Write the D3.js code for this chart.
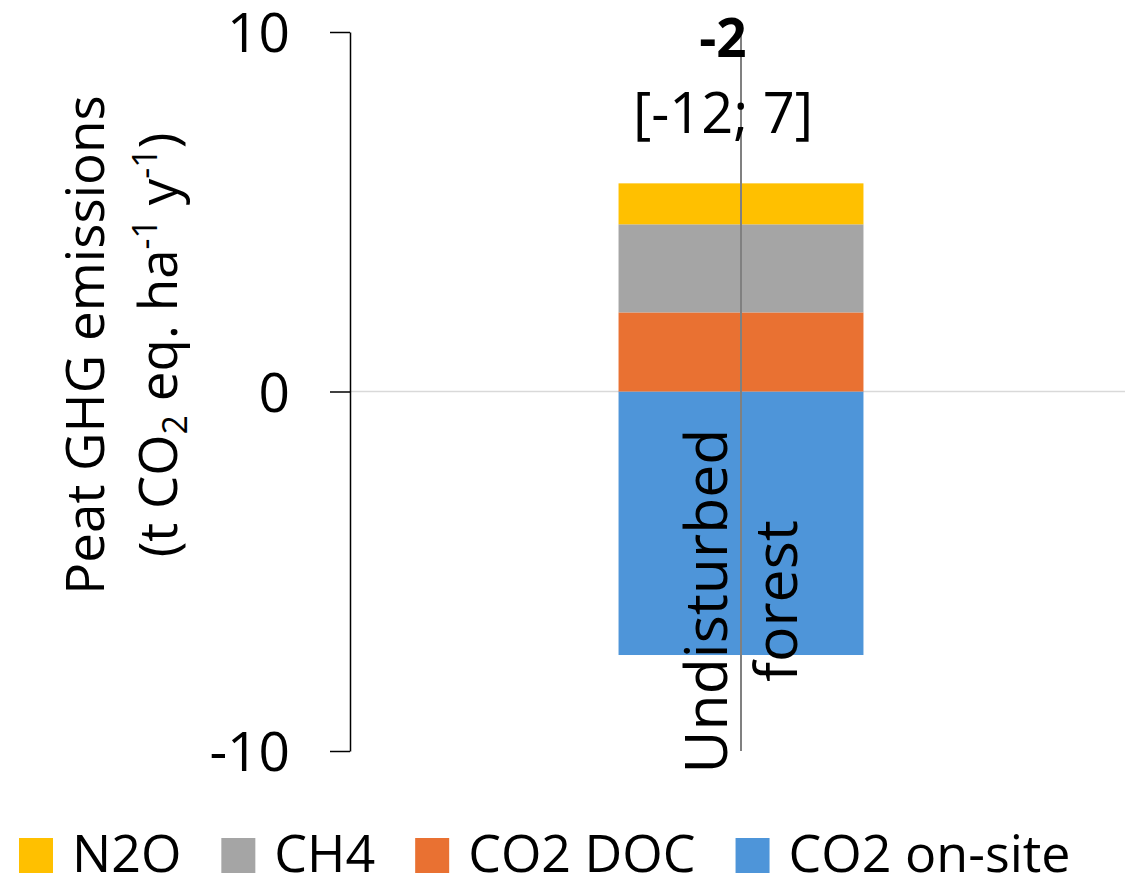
<!DOCTYPE html>
<html>
<head>
<meta charset="utf-8">
<script src="https://cdn.jsdelivr.net/npm/d3@7"></script>
<style>
  body { margin: 0; background: #fff; }
  text { font-family: "Open Sans", "Noto Sans", sans-serif; fill: #000; }
</style>
</head>
<body>
<div id="chart"></div>
<script>
// chart data
const categories = ["Undisturbed forest"];
const seriesNames = ["CO2 on-site", "CO2 DOC", "CH4", "N2O"];
const seriesColors = ["#4E95D9", "#E97132", "#A5A5A5", "#FFC000"];
const co2OnSite = [-7.33];
const co2Doc = [2.2];
const ch4 = [2.45];
const n2o = [1.14];
const totalLabels = ["-2"];
const rangeLabels = ["[-12; 7]"];
const rangeLow = [-10];   // whisker as drawn (clipped to axis)
const rangeHigh = [10];
const yTicks = [-10, 0, 10];
const legendOrder = ["N2O", "CH4", "CO2 DOC", "CO2 on-site"];

const W = 1125, H = 878;
const margin = { left: 350, right: -7, top: 32, bottom: 127 };

const svg = d3.select("#chart").append("svg")
    .attr("width", W).attr("height", H);

const rows = categories.map((c, i) => ({
    cat: c,
    "CO2 on-site": co2OnSite[i],
    "CO2 DOC": co2Doc[i],
    "CH4": ch4[i],
    "N2O": n2o[i]
}));

const x = d3.scaleBand()
    .domain(categories)
    .range([margin.left, W - margin.right])
    .paddingInner(0.523).paddingOuter(0.523);

const y = d3.scaleLinear()
    .domain([-10, 10])
    .range([H - margin.bottom, margin.top]);

const color = d3.scaleOrdinal().domain(seriesNames).range(seriesColors);

// zero line
svg.append("line")
    .attr("x1", margin.left).attr("x2", W)
    .attr("y1", y(0)).attr("y2", y(0))
    .attr("stroke", "#d9d9d9").attr("stroke-width", 1.5);

// stacked bars
const stacked = d3.stack().keys(seriesNames).offset(d3.stackOffsetDiverging)(rows);
svg.append("g")
  .selectAll("g")
  .data(stacked)
  .join("g")
    .attr("fill", d => color(d.key))
  .selectAll("rect")
  .data(d => d)
  .join("rect")
    .attr("x", d => x(d.data.cat))
    .attr("y", d => y(Math.max(d[0], d[1])))
    .attr("height", d => Math.abs(y(d[0]) - y(d[1])))
    .attr("width", x.bandwidth());

// range line
svg.append("g").selectAll("line")
  .data(categories)
  .join("line")
    .attr("x1", d => x(d) + x.bandwidth() / 2)
    .attr("x2", d => x(d) + x.bandwidth() / 2)
    .attr("y1", (d, i) => y(rangeHigh[i]))
    .attr("y2", (d, i) => y(rangeLow[i]))
    .attr("stroke", "#808080").attr("stroke-width", 2);

// y axis
const yAxis = svg.append("g")
    .attr("transform", `translate(${margin.left},0)`)
    .call(d3.axisLeft(y).tickValues(yTicks).tickFormat(d => String(d))
        .tickSize(20).tickSizeOuter(0).tickPadding(40));
yAxis.select(".domain").attr("stroke", "#000").attr("stroke-width", 1.5);
yAxis.selectAll(".tick line").attr("stroke", "#000").attr("stroke-width", 1.5);
yAxis.selectAll(".tick text")
    .attr("font-size", 55)
    .attr("fill", "#000")
    .attr("dy", "0.36em")
    .style("font-family", "'Open Sans', sans-serif");

// y axis title
const yt = svg.append("text")
    .attr("transform", "translate(0,345) rotate(-90)")
    .attr("text-anchor", "middle")
    .attr("font-size", 53);
yt.append("tspan").attr("x", 0).attr("y", 104).text("Peat GHG emissions");
const l2 = yt.append("tspan").attr("x", 0).attr("y", 177);
l2.append("tspan").text("(t CO");
l2.append("tspan").attr("font-size", 34).attr("dy", 10).text("2");
l2.append("tspan").attr("dy", -10).text(" eq. ha");
l2.append("tspan").attr("font-size", 34).attr("dy", -20).text("-1");
l2.append("tspan").attr("dy", 20).text(" y");
l2.append("tspan").attr("font-size", 34).attr("dy", -20).text("-1");
l2.append("tspan").attr("dy", 20).text(")");

// category labels (rotated, two lines)
const catG = svg.append("g").selectAll("text")
  .data(categories)
  .join("text")
    .attr("transform", d => `translate(${x(d) + x.bandwidth() / 2},601) rotate(-90)`)
    .attr("text-anchor", "middle")
    .attr("font-size", 59);
catG.each(function(d) {
    const words = d.split(" ");
    const t = d3.select(this);
    t.append("tspan").attr("x", 0).attr("y", -14).text(words[0]);
    t.append("tspan").attr("x", 0).attr("y", 56).text(words.slice(1).join(" "));
});

// total and range annotations
svg.append("g").selectAll("text")
  .data(categories)
  .join("text")
    .attr("x", d => x(d) + x.bandwidth() / 2 - 18)
    .attr("y", 57)
    .attr("text-anchor", "middle")
    .attr("font-size", 53)
    .attr("font-weight", "bold")
    .text((d, i) => totalLabels[i]);
svg.append("g").selectAll("text")
  .data(categories)
  .join("text")
    .attr("x", d => x(d) + x.bandwidth() / 2 - 18)
    .attr("y", 133)
    .attr("text-anchor", "middle")
    .attr("font-size", 56)
    .text((d, i) => rangeLabels[i]);

// legend
const legend = svg.append("g");
let lx = 19;
legendOrder.forEach(name => {
    legend.append("rect")
        .attr("x", lx).attr("y", 838)
        .attr("width", 34).attr("height", 35)
        .attr("fill", color(name));
    const t = legend.append("text")
        .attr("x", lx + 53).attr("y", 872)
        .attr("font-size", 52)
        .text(name);
    lx += 53 + t.node().getComputedTextLength() + 40;
});
</script>
</body>
</html>
